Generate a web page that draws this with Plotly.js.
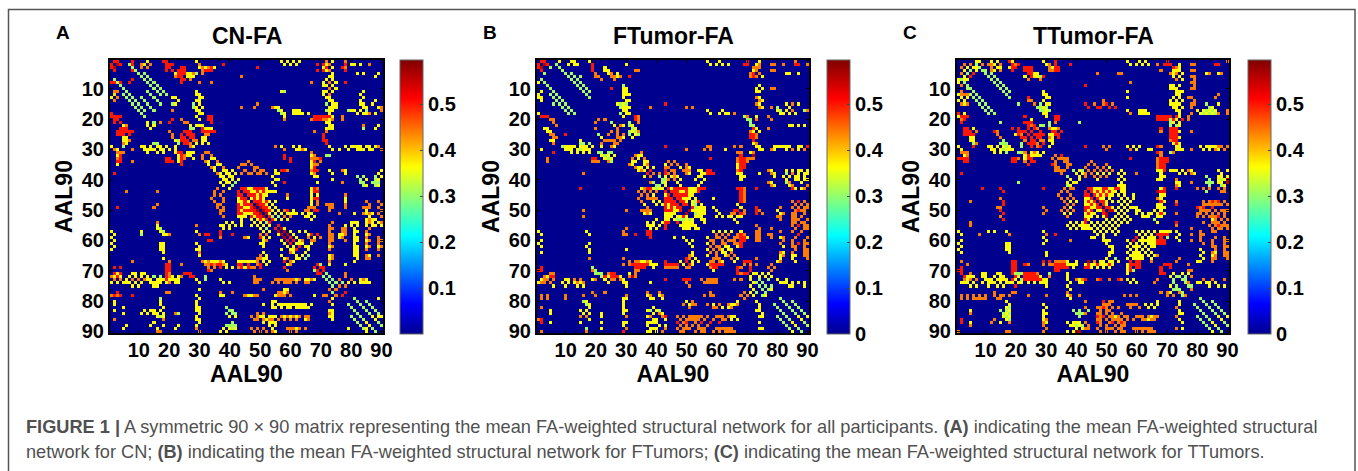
<!DOCTYPE html>
<html><head><meta charset="utf-8">
<script src="https://cdn.plot.ly/plotly-3.0.1.min.js"></script>
<style>html,body{margin:0;padding:0;background:#fff}#c{width:1358px;height:471px}</style>
</head><body><div id="c"></div>
<script>
// Each entry: [row, value, [columns]] — the matrices are symmetric, so each cell is mirrored.
const cnEdges = [
[1,.5,[2,3,8,18,19]],[1,.365,[13,29,57,59,61,63,74]],[1,.44,[72,78]],[2,.56,[3]],[2,.5,[4,19,20,38,71]],[2,.44,[7,12,14,30,73]],[2,.365,[58,60,62,80,83]],
[3,.5,[24,25,34,49,72,74]],[3,.44,[13,33,78]],[3,.365,[30,32,35]],[4,.5,[8,19,23,25,71]],[4,.365,[31,32]],
[5,.31,[29,10]],[5,.5,[23,24]],[5,.44,[26,27,28]],[5,.365,[82]],[6,.44,[22,44]],[6,.5,[24]],[6,.365,[28,73,88,74]],
[7,.5,[25]],[7,.365,[72,74]],[7,.44,[27]],[8,.44,[30,67,78]],[8,.365,[71,73,75]],[9,.365,[72,74]],[10,.365,[73,75]],
[3,.31,[8]],[4,.31,[9]],[6,.31,[11,13]],[7,.31,[12,14,2]],[8,.31,[13,15,3]],[9,.31,[14,16,4]],[10,.31,[15,17,5]],[11,.31,[16,18,6]],[12,.31,[17,19,7,5,14]],[13,.31,[8,6,11,15]],[14,.31,[9,7,12,16]],[15,.31,[10,13,17]],[16,.31,[11,14]],[17,.31,[12,15]],
[8,.5,[2,4,7]],[11,.44,[2,3]],[12,.38,[2]],[13,.44,[3]],[14,.44,[2]],
[11,.31,[58]],[12,.365,[30,71,73,83]],[13,.365,[22,30,31,73]],[14,.365,[23,30,73,74,83]],[15,.31,[21,22,28,30]],[15,.44,[49]],[15,.365,[74,75,83,87]],
[16,.44,[44,48,54]],[16,.365,[29,31,56,73,75,84,89]],[17,.365,[30,57,62,73,74]],[17,.31,[79,81,85]],[18,.365,[31,58,61,63,64,73,82,84,86,88]],[18,.44,[66]],[19,.44,[58]],[19,.5,[72,73]],
[19,.5,[2,3,4]],[20,.5,[3,21,33,34,68,69,70,73]],[21,.5,[2,4]],[22,.365,[5]],[23,.5,[4,6]],[24,.5,[3,4,6,7,8]],[25,.5,[3,5,7]],[26,.365,[5,6]],[27,.365,[5,6]],[28,.365,[6]],[30,.44,[2]],[31,.44,[3,4,5]],[32,.5,[4]],[33,.5,[4,19,20,23,24,25]],[34,.5,[4,19,20]],[34,.44,[8,24]],
[28,.31,[15,16]],[29,.365,[11,12,14,17,19]],[30,.365,[12,13,15,18,20]],[31,.5,[23,24]],[31,.365,[26,27,28]],[32,.5,[24,25]],[21,.365,[13]],[22,.365,[15]],[21,.44,[17]],
[38,.5,[2]],[44,.44,[6,16]],[49,.5,[3]],[48,.44,[16]],[49,.44,[15]],[54,.44,[16]],[55,.365,[16,29]],[56,.31,[17]],[57,.31,[18]],[58,.365,[19]],[58,.44,[20]],[57,.365,[11,29]],[58,.365,[30]],[58,.5,[33,41]],[60,.5,[34]],[59,.44,[37,45]],[61,.365,[29]],[63,.365,[29,30]],[61,.365,[17]],[62,.365,[18]],[63,.365,[17]],[64,.365,[18]],[66,.365,[18]],[59,.5,[50,51]],[60,.365,[51]],[61,.365,[50]],[62,.365,[51]],
[20,.44,[24,67,72,74,77]],[21,.5,[34]],[21,.44,[25,26]],[21,.365,[72,73]],[22,.365,[27,29,30,31,73,74]],[23,.31,[27,28,84]],[23,.365,[32,33,34,72,73,88]],
[24,.5,[25,26,27,33,34,35]],[24,.44,[68,72]],[25,.5,[26,27,28]],[25,.44,[32,33]],[26,.5,[27,28,71]],[26,.365,[32]],[27,.44,[28,29]],[27,.365,[32]],[27,.5,[71,72]],[28,.365,[29,33]],[28,.5,[72]],
[29,.44,[55,89]],[29,.365,[57,61,63,73,78,81,82,85,86,88]],[30,.44,[58,64]],[30,.365,[62,65,74,76,79,83,84,87,90]],
[31,.44,[32,33,67]],[32,.44,[34]],[32,.5,[58,68]],[32,.365,[67]],[32,.31,[73]],[33,.365,[34,35]],[33,.5,[60,68,70]],[33,.44,[67,69]],[34,.44,[36,46]],[34,.365,[67,68]],[35,.365,[36,37,67]],[35,.44,[44,45,47]],
[36,.44,[38,43,48,49]],[36,.365,[67]],[37,.365,[38,39,41,55,73,77,90]],[37,.5,[57,58]],[37,.44,[45,48,50,51,67,68]],[38,.365,[39,40,42,55,56,67,74,78]],[38,.44,[44,46,47,49,50,52]],[39,.365,[40,41,54,68]],[39,.31,[82]],[40,.365,[41,43,55,56]],[40,.31,[83,88]],[41,.31,[42,83,87,89]],[41,.365,[54]],[42,.365,[55]],[42,.31,[84,88]],
[43,.5,[44,45,48,49,50,51,68]],[43,.365,[46,47,52,67]],[44,.5,[45,46,49,51]],[44,.365,[47,48,50,52,53,54,55,67]],[45,.5,[46,47,48,50]],[45,.365,[49,51,52,67]],[46,.365,[47,49,51,59,67,78]],[46,.5,[48,50]],[47,.5,[48,49,50,52]],[47,.365,[51,53,55,67,78]],[47,.44,[85,89]],
[48,.56,[49]],[48,.5,[50,51]],[48,.365,[52,54,67]],[48,.44,[72,74,86]],[49,.56,[50]],[49,.5,[51,52]],[49,.365,[53,55]],[49,.44,[66,67,73,78,86]],[50,.56,[51]],[50,.5,[52,53]],[50,.365,[54,56,85]],[50,.44,[58,65,66,73]],
[51,.56,[52]],[51,.365,[53,55,57,59,61,64,66,81,85,87]],[51,.44,[76]],[52,.5,[53]],[52,.31,[54,56]],[52,.44,[58,60]],[52,.365,[65,86]],[53,.5,[54]],[53,.365,[55,57,59,87]],[54,.365,[80,81,82,85,87,89]],[55,.5,[56]],[55,.44,[73]],[55,.365,[78,80,85,88,90]],
[56,.56,[57]],[56,.365,[58]],[56,.44,[73,74,77]],[57,.56,[58]],[57,.365,[60,63,65,73,81,82]],[57,.44,[77,78,85]],[58,.56,[59]],[58,.365,[61,66,76,77,81,85,86]],[58,.5,[67,69]],[58,.44,[73]],[59,.5,[60]],[59,.365,[62,68,76,81,82]],[59,.44,[66,70,73,74,85]],
[60,.5,[61]],[60,.365,[63,81,85]],[60,.44,[64,67,68,73,89]],[61,.365,[62,63,64,67,81,85]],[61,.44,[89]],[62,.5,[63]],[62,.365,[65,66,73,81,85,86,89]],[63,.365,[66,81,82]],[63,.44,[85,89]],[64,.365,[65,81]],[65,.31,[66]],[65,.365,[73,82,86]],[65,.44,[89]],[66,.365,[73,82]],[66,.44,[85,86]],[67,.365,[73]],[68,.365,[73]],
[68,.5,[69]],[68,.31,[70]],[69,.5,[70,71]],[70,.5,[71]],
[68,.44,[32,33,35,38,49]],[68,.5,[34,36,37,44,46,50]],[69,.44,[33,35,43,47,48]],[69,.5,[37,44,46,50]],[69,.365,[39,41,45]],[67,.365,[51,53]],[66,.365,[52]],[68,.365,[52]],
[68,.5,[19]],[69,.5,[19]],[70,.5,[19]],[71,.5,[19]],[67,.44,[20]],[71,.44,[20]],[69,.5,[2,4]],
[72,.365,[2,4,9,11,13]],[73,.44,[2,4,8,10,12]],[74,.365,[3,5,7,9,11]],[71,.365,[3,9,11]],[73,.365,[14,16,18,20]],[72,.31,[15,17]],[74,.365,[16,19,22,23]],[72,.365,[21,23]],[71,.5,[25,26,27]],[72,.5,[27,28]],[73,.365,[29]],[74,.365,[30]],[72,.31,[32]],[70,.44,[34]],
[73,.365,[37]],[74,.365,[38,40]],[73,.44,[48,50,55,57,59,61,63,67]],[74,.44,[49,54,56,58,60,62,65,66]],[71,.31,[72]],[72,.31,[73]],[73,.31,[74,76]],[74,.31,[75,77]],[75,.31,[76]],[74,.365,[79,81,83,85]],[73,.44,[80,84]],[76,.44,[73,75]],[78,.44,[71,72,75]],[77,.5,[78]],
[77,.5,[3]],[78,.5,[2,4,8]],[77,.44,[19,37,41]],[78,.365,[37,38]],[78,.44,[45,48]],[78,.44,[56]],[77,.44,[57,59]],[78,.44,[58,60]],[78,.365,[68]],
[81,.365,[2,17]],[83,.365,[2,17,29]],[84,.365,[5,11,13,15]],[85,.365,[16,18,29]],[84,.44,[22]],[86,.44,[2,18]],[86,.365,[29,30]],[88,.365,[14,29]],[89,.365,[5,22]],[90,.44,[16,17,30]],[80,.365,[17,29]],[81,.365,[29]],[82,.365,[30]],
[84,.31,[39,41]],[85,.365,[40,42]],[88,.31,[39,41]],[89,.365,[38,40,42]],[90,.365,[37,39]],[85,.44,[47,49]],[86,.44,[51,53]],[84,.44,[49,51]],[85,.365,[53,55]],
[81,.365,[56,58,61,63,65,67]],[82,.365,[55,57,59,60,62,64,66]],[85,.44,[57,59,61,63,65]],[86,.44,[54,56,58,60,62]],[87,.365,[55]],[88,.365,[53,55]],[89,.44,[47,49,51,59,61,63]],[90,.44,[48,50,52,54,60,62]],
[83,.365,[73]],[84,.365,[74]],[85,.365,[73]],[86,.365,[74]],[89,.365,[79,85]],
[79,.31,[81]],[80,.31,[82,85]],[81,.31,[83,86]],[82,.31,[84,87]],[83,.31,[85,88]],[84,.31,[86,89]],[85,.365,[87,90]],[86,.365,[88]],[87,.31,[89]],[88,.31,[90]]
];
const ftumorEdges = [
[1,.5,[2,3]],[2,.56,[3]],[2,.5,[4]],[1,.365,[8,12,13,18,57,61]],[2,.365,[11,14,19,30,58,60,62,64]],[3,.31,[5]],[3,.5,[19]],[4,.5,[19,33,34]],[5,.365,[20,27]],[6,.44,[21]],[7,.44,[22]],[3,.365,[23]],[4,.365,[23,24]],[5,.44,[24]],[6,.5,[26,27,28,31]],[6,.31,[25,15]],
[7,.31,[2,12,14]],[8,.31,[3,13,15]],[9,.31,[4,14,16]],[10,.31,[5,15,17]],[11,.31,[6,16,18]],[12,.31,[7,17,5]],[13,.31,[8,18,6]],[14,.31,[9,7]],[15,.31,[10,8]],[16,.31,[11,9]],[17,.31,[12,10]],[18,.31,[11]],[4,.31,[9]],[5,.31,[10]],[6,.31,[11]],[13,.365,[2]],
[9,.31,[29]],[10,.365,[30]],[11,.365,[29]],[12,.365,[30,31]],[13,.365,[29]],[14,.365,[30,31]],[15,.31,[28,30]],[16,.365,[29,31]],[17,.365,[30]],[18,.365,[31]],[10,.5,[25]],
[16,.44,[38,50,52]],[15,.5,[43]],[17,.365,[57,62]],[18,.365,[58,61,63,64]],[18,.44,[66]],[1,.5,[70]],[2,.5,[70]],[3,.44,[72,73]],[1,.365,[74]],[3,.365,[74]],[4,.365,[73]],[5,.44,[71,74]],[6,.44,[71]],[6,.365,[73,75]],
[2,.44,[79,82]],[4,.44,[79]],[1,.44,[86]],[2,.5,[87]],[2,.44,[90]],[5,.365,[84]],[10,.44,[79]],[9,.365,[74]],[10,.365,[73,75]],[13,.365,[74]],[14,.365,[75]],[15,.365,[74]],[16,.365,[74,75]],
[16,.31,[80,84]],[17,.31,[81,85]],[15,.365,[83]],[15,.44,[87]],[18,.44,[86]],[17,.31,[89]],[18,.365,[82,84]],
[19,.31,[69]],[20,.31,[70]],[21,.31,[71]],[22,.31,[71,72]],[23,.5,[72,73]],[24,.365,[72]],[25,.5,[71,72]],[26,.5,[71,72]],[27,.5,[72]],[28,.365,[72,73]],[29,.365,[73,74]],[30,.365,[75]],[20,.44,[73]],[19,.44,[77]],[20,.44,[78]],[23,.44,[77]],[22,.365,[85,89]],
[19,.5,[2,3,4]],[20,.44,[5,6]],[23,.365,[4]],[24,.365,[4,5]],[25,.44,[5,6]],[26,.44,[6,7]],[27,.365,[6]],[28,.44,[6]],[33,.44,[4]],[34,.44,[4]],
[20,.44,[21]],[20,.44,[23]],[21,.31,[25]],[23,.44,[20]],[22,.365,[28,29]],[24,.44,[25,27]],[25,.44,[24,29]],[26,.365,[22,29]],[27,.44,[23,25,26,28]],[28,.44,[22,26]],
[20,.44,[33,34]],[21,.44,[34]],[22,.31,[31]],[23,.31,[32]],[24,.31,[31,33]],[25,.31,[31,34]],[26,.365,[32]],
[29,.44,[57,58,66]],[30,.44,[56,58]],[30,.365,[63]],[29,.365,[79,81,82,83,84]],[30,.365,[78,85,87,89]],[29,.5,[43]],[30,.44,[50]],[29,.44,[88,90]],
[29,.365,[10,12,13,15,17,19]],[30,.365,[11,14,16,18]],[28,.31,[16,18]],[27,.365,[15]],
[31,.31,[21,25]],[32,.365,[22,24]],[33,.365,[23,25]],[33,.5,[19,20]],[34,.44,[19,24]],
[31,.44,[67,35]],[32,.44,[68]],[33,.44,[67,68,70,71]],[34,.44,[67,68,69]],[35,.365,[67,68]],[36,.365,[67,68]],[37,.44,[67,68]],[38,.365,[67]],[39,.365,[68]],[32,.56,[72]],[33,.5,[58]],
[32,.365,[34,35]],[33,.44,[32,36]],[34,.365,[33,36,37]],[35,.365,[36,37]],[36,.365,[37]],[37,.44,[35]],
[36,.365,[39]],[35,.365,[43]],[34,.44,[44,46]],[35,.44,[45,47]],[36,.44,[43,44,48,50]],[37,.44,[45,49,51]],[38,.44,[39,41,43,46,50]],[37,.5,[38]],[37,.365,[54,83,85,87,88,90]],[38,.365,[55,83,89]],[39,.365,[54,82,84,87]],[40,.365,[53,83,86,89]],[41,.365,[55]],[42,.365,[54]],[37,.5,[57]],[38,.5,[56,57,59]],
[39,.31,[41]],[40,.31,[42,43]],[41,.31,[42]],[42,.31,[43]],[39,.365,[45,47]],[40,.44,[46,48]],
[43,.5,[44,46,47,48,49,50,67,68,73,85]],[43,.365,[45,51,52,53,54,55,56]],[44,.5,[45,46,47,50,68]],[44,.365,[48,49,51,53]],[45,.5,[46,47,48,49,50]],[45,.365,[51,52]],[45,.44,[68]],[46,.5,[47,48,68]],[46,.365,[49,50,51,53,59]],[47,.5,[48,49]],[47,.365,[50,52,54,68]],[48,.5,[49,50]],[48,.365,[52,53,55,67]],[49,.5,[52,73]],[49,.365,[54,55,56,59,68]],[50,.56,[51]],[50,.365,[53,55,60]],[51,.365,[54,56,61]],[52,.365,[55,60,62,64,65]],[53,.365,[56]],
[43,.5,[37,38]],[43,.365,[39,41,42]],[44,.44,[36,38,40]],[46,.44,[37,39,40]],[47,.365,[39,41]],[48,.365,[36,40,42]],[50,.44,[35,37,38]],[51,.365,[36,38]],
[52,.365,[44,47,50,53]],[53,.365,[44]],[54,.5,[43,44,47]],[55,.5,[43]],[56,.5,[43]],[55,.365,[37,39,41,48,51,53]],[56,.365,[38,40,50,54]],[57,.5,[37,38]],[58,.5,[37,38]],[59,.5,[38]],[53,.31,[47,48,49,51]],[54,.365,[49,50,52]],
[50,.5,[67,66,73]],[51,.44,[65,66,73,75]],[50,.44,[74]],
[37,.365,[78]],[38,.365,[79]],[39,.365,[79]],[41,.365,[78]],[42,.365,[79]],[41,.44,[84,88]],[42,.44,[85,90]],[43,.44,[86,89]],
[47,.5,[85,87,89]],[48,.44,[86,88]],[49,.44,[81,85,87,89]],[50,.44,[86,88]],[50,.365,[80]],[51,.44,[85,89]],[51,.365,[81]],[52,.44,[80,86,88]],[53,.44,[81,85,87]],[54,.44,[86,89]],[55,.44,[73,85,87,90]],[56,.44,[74,78,86,89]],[57,.44,[73,85]],[58,.44,[74,77]],[59,.44,[73,78]],[60,.44,[74]],
[57,.365,[59,61,63,65,68,81]],[58,.44,[60,62,64,67,69]],[59,.44,[60,61,63,66,68,70]],[59,.365,[81]],[60,.44,[62,64,65,69,82]],[61,.44,[62,63,66,85,89]],[61,.365,[81]],[62,.365,[63,64,67,82]],[62,.44,[85,86]],[63,.365,[64,65]],[63,.44,[86,89]],[64,.44,[65,85,89,90]],[64,.365,[81,82]],[65,.44,[66,89]],[65,.365,[81,82,85,86]],[66,.365,[67,81,85]],[66,.44,[90]],[67,.365,[80,81,86]],
[67,.44,[61,58,59]],[66,.44,[59,60,61]],[68,.5,[58,59,60,61,62]],[69,.5,[59,60]],[70,.365,[59]],
[67,.5,[69,70,71]],[68,.44,[69,71,73]],[69,.5,[71]],[70,.5,[71]],[70,.44,[78]],[69,.44,[79]],
[68,.44,[29,31]],[68,.5,[32,33,34,35,36,37,44,45,46,47,51]],[68,.365,[38,40,52]],[69,.5,[33,34,35,36]],[69,.365,[39]],[69,.44,[43,44,45,46,47,50,51]],[67,.365,[52,54]],[66,.365,[53]],
[70,.44,[33,34]],[71,.44,[33]],[72,.44,[33,31]],[71,.365,[31]],[70,.44,[19]],[71,.31,[20,21]],[72,.31,[22]],[73,.365,[23,19]],[71,.5,[25,26]],[72,.5,[26,27]],[71,.44,[24]],[73,.44,[25,26,28]],[74,.365,[29,30,24]],[72,.365,[24]],
[69,.5,[2]],[72,.5,[5,6]],[73,.44,[4,6]],[74,.44,[2,3,5]],[73,.365,[2,10,11]],[72,.365,[4]],[74,.365,[11]],[73,.44,[13,15]],[74,.44,[14,16]],
[74,.365,[38]],[73,.5,[43,49,51]],[74,.44,[50,56,57,59]],[73,.44,[55,58,60,66]],
[71,.365,[72,73,75,77]],[72,.365,[74,76,78]],[73,.31,[74]],[74,.31,[75]],[75,.31,[76,78]],[76,.31,[77]],[77,.31,[73]],[78,.365,[76]],[73,.365,[80,83]],[74,.365,[81,82,85,87,89]],
[78,.44,[2,4,10,16,20,30,38,42,56,58,68]],[77,.44,[19,23,37,41,69]],
[80,.365,[17,29]],[81,.365,[18]],[83,.365,[17,5,30]],[84,.365,[16,22,29]],[85,.44,[17,15,30]],[86,.365,[18]],[86,.5,[2]],[87,.365,[5,15,22,29]],[90,.44,[17]],[79,.365,[30]],[82,.365,[29]],[88,.365,[29]],[89,.44,[30]],[90,.5,[29]],
[83,.31,[38,41]],[84,.365,[39,42]],[85,.44,[38]],[86,.365,[39,43]],[87,.365,[38,40]],[88,.365,[41,43]],[89,.365,[39]],[90,.365,[38,40]],
[85,.44,[47,49,52,54,57,60,62,64]],[86,.44,[48,51,53,56,59,63]],[87,.5,[47,50,55,58,61]],[88,.44,[48,52,54,57]],[89,.44,[47,50,51,55,60,62,64]],[90,.44,[48,49,53,56,59,61,63,65]],
[82,.44,[51]],[81,.44,[52,57,61,64,67]],[82,.44,[59,60,65]],[81,.365,[74]],[83,.365,[74]],[84,.365,[75]],[85,.365,[75]],[87,.365,[74]],[89,.365,[75]],
[79,.31,[81]],[80,.31,[82,85]],[81,.31,[83,86]],[82,.31,[84,87]],[83,.31,[85,88]],[84,.31,[86,89]],[85,.365,[87,90]],[86,.365,[88]],[87,.31,[89]],[88,.31,[90]]
];
const ttumorEdges = [
[1,.365,[7,8,12,14,19,29]],[1,.5,[18,33]],[2,.44,[3,5,9,12,13,19,20,30,31]],[3,.365,[4,6,14,15,18,32]],[3,.5,[19,23,24,25,31,33,34]],[4,.31,[5,10]],[4,.5,[24,25,32,33,34]],[5,.5,[25,26,27]],[6,.5,[26,27,28,29,5]],[7,.44,[24,28]],[6,.365,[23]],[7,.365,[3,4]],
[7,.31,[2,12,14]],[8,.31,[3,13,15]],[9,.31,[4,14,16]],[10,.31,[5,15,17]],[11,.31,[6,16,18]],[12,.31,[7,17,5]],[13,.31,[8,18,6]],[14,.31,[9,7]],[15,.31,[10,8,21]],[16,.31,[11,9]],[17,.31,[12,10]],[18,.31,[11]],[4,.31,[9]],[5,.31,[10]],[6,.31,[11]],
[12,.365,[30]],[13,.365,[30,31]],[14,.365,[29]],[15,.365,[30,31]],[16,.31,[28,30]],[17,.31,[29,31]],[18,.365,[30]],[13,.5,[24]],[14,.44,[25,24]],[15,.44,[26]],
[11,.44,[2]],[12,.44,[3,4]],[13,.365,[2,4]],[14,.365,[3]],[15,.44,[2,4]],[19,.5,[2,3,4]],[20,.5,[3]],[21,.5,[2]],[23,.5,[3,4]],[24,.5,[4,5]],[25,.5,[5,6]],[26,.365,[6,5]],[27,.365,[5,6]],[28,.31,[6]],[30,.44,[2]],[31,.44,[3,4]],[33,.5,[3,4]],[34,.5,[4]],
[29,.365,[11,12,14,16,18]],[30,.365,[13,15,17,19]],[28,.31,[15,17]],[27,.31,[16]],
[21,.5,[24,25]],[20,.365,[25]],[22,.44,[25,26]],[23,.5,[19,21,24,26,27]],[24,.5,[21,22,23,25,28]],[25,.5,[26,27,28,29]],[26,.5,[22,23,27,28]],[27,.44,[23,28,29]],[28,.5,[29]],[29,.44,[22]],[22,.31,[28,29]],
[20,.5,[33,34]],[21,.44,[33]],[22,.31,[31]],[23,.44,[31,33,34]],[24,.5,[32,33,35]],[25,.365,[31,32]],[26,.44,[31,34]],[27,.365,[32]],[21,.31,[41]],
[31,.31,[21,22]],[32,.365,[23,26,27,28]],[33,.5,[19,24,25]],[34,.5,[19,25,26]],[31,.365,[25,27,29]],[33,.365,[23]],
[32,.5,[35]],[33,.44,[32,34,36,37]],[34,.44,[37]],[35,.44,[33,38]],[36,.44,[34,37]],[37,.44,[35]],
[1,.365,[61,63,57]],[2,.365,[58,60,62,64]],[2,.44,[67]],[1,.5,[70]],[2,.5,[71]],[3,.5,[72,74]],[4,.365,[73,74]],[5,.365,[72,75]],[6,.44,[72,74]],[7,.365,[73,75]],
[9,.365,[71,74]],[10,.365,[72,73]],[11,.365,[73,75]],[12,.365,[74]],[13,.365,[72,74]],[14,.365,[71,73,75]],[15,.365,[73,74]],[16,.365,[72,75]],[17,.365,[73,74]],[18,.365,[74]],
[2,.44,[79]],[4,.44,[79]],[6,.44,[79]],[7,.44,[79]],[8,.44,[79]],[9,.44,[79]],[10,.44,[79]],[5,.44,[84,88]],[2,.5,[87]],[1,.44,[90]],
[13,.44,[78]],[14,.44,[79]],[15,.44,[79]],[17,.31,[80,83,85]],[18,.31,[81,82,84,86]],[16,.31,[84]],[15,.31,[83]],[17,.44,[86]],[18,.44,[87,90]],[12,.44,[87]],
[2,.5,[38]],[5,.44,[47,55]],[9,.5,[43]],[8,.44,[58]],[11,.365,[57]],[13,.365,[57]],[15,.5,[43,50]],[16,.5,[44,47,48,51,53]],[15,.44,[46,49,52]],[14,.44,[49]],[17,.365,[57,62]],[18,.365,[58,61,63,64]],
[19,.5,[68,70,71,73,74]],[20,.5,[67,69,70,71,72,75]],[21,.365,[71,72]],[22,.31,[71,73]],[23,.5,[71,72,73]],[24,.5,[71,73]],[25,.5,[71,72,73]],[26,.5,[71,72]],[27,.44,[71,72,73]],[28,.365,[72,73]],[29,.365,[74]],[30,.365,[74]],[24,.44,[68,78]],[20,.44,[77]],[19,.44,[77]],
[2,.365,[30]],[3,.44,[31]],[4,.44,[32]],[2,.5,[33]],
[29,.5,[43,67]],[29,.44,[49,51,85,87,88,90]],[30,.44,[50,78,86,89]],[29,.365,[57,59,61,81,83,84]],[30,.365,[58,60,64,73,75,82]],
[31,.5,[67]],[32,.44,[68]],[33,.44,[67,68,70]],[34,.44,[67,68,69]],[35,.44,[67,68]],[36,.44,[67,68]],[37,.365,[67,68]],[39,.365,[68]],[40,.365,[67]],[31,.44,[71,72]],[33,.5,[58]],[38,.44,[60]],
[37,.365,[72,75,78,87,90,55]],[38,.365,[76,79,88,54]],[41,.365,[73,55,88]],[42,.365,[74,54,55,89]],[41,.44,[78]],[39,.31,[83]],[40,.31,[84]],[41,.31,[83,84]],[42,.31,[84]],[39,.365,[88,90,55]],[40,.365,[87,89,54]],[41,.56,[90]],[43,.44,[80,82,84,87]],[44,.44,[88]],
[37,.31,[39,41]],[38,.365,[40,42]],[39,.365,[41]],[39,.31,[43]],[40,.365,[38,41]],[41,.365,[37,39]],[42,.31,[37]],[43,.365,[38]],
[34,.44,[45]],[35,.44,[44,46,50]],[36,.44,[43,47,49,51]],[37,.44,[44,48,50,52]],[38,.44,[43,45,47,49,51]],[39,.365,[46,48]],[40,.365,[47]],
[43,.5,[44,45,49,50,53,54,55,73]],[43,.365,[46,47,48,51,52,56,68]],[44,.5,[45,47,49,51]],[44,.365,[46,48,50,52,53]],[44,.56,[67]],[45,.5,[46,48,50]],[45,.365,[47,49,51]],[45,.44,[68]],[46,.5,[47]],[46,.365,[48,49,51,59]],[46,.44,[67]],[47,.5,[48,49]],[47,.365,[50,68]],[48,.5,[49,73]],[48,.365,[50,67]],[49,.5,[50,51]],[50,.56,[51,52,68]],[49,.365,[52,54,56,59,60,67,68]],[50,.365,[53,55,57,60,61,66]],[51,.365,[54,56,62,64,65,67]],[52,.365,[53,55,57,62,63,64,45,47]],[53,.365,[54,56,58,44]],[54,.365,[55,57,45,47]],
[55,.365,[44,46,48,37,39,41,43]],[56,.365,[45,47,49,38,40,42,44]],[57,.365,[46,48,50]],[58,.365,[47,49]],
[43,.44,[36,38,39]],[44,.44,[37]],[46,.44,[37,39]],[47,.365,[38,40]],[48,.44,[37,39]],[49,.365,[38]],[50,.44,[35,37,39]],[51,.365,[36,38]],
[47,.44,[82,84,86,89]],[48,.44,[83,85,87]],[49,.5,[80,82,85]],[50,.44,[81,83,86,89]],[51,.44,[80,85,87]],[52,.44,[80,86,89]],[53,.365,[85]],[54,.44,[82,85,86,87]],[55,.44,[84,88,89]],[56,.44,[85,87,90]],
[54,.44,[5]],[57,.365,[11,13,17,29]],[58,.44,[8,18,30]],[61,.365,[17,29]],[62,.365,[18]],[63,.365,[17]],[64,.365,[18]],[59,.365,[29]],[60,.365,[30]],[65,.365,[30]],[58,.5,[33]],[60,.44,[38]],[59,.365,[45,49]],[60,.365,[51]],[61,.365,[50]],[62,.365,[52]],
[54,.5,[73]],[57,.44,[73,85]],[58,.44,[74,78,81]],[59,.44,[73]],[60,.44,[74,78,81,85,89]],[61,.365,[82]],[61,.44,[85]],[62,.44,[85,86,89,90]],[63,.365,[81]],[64,.365,[85,86]],[64,.44,[89]],[65,.365,[81,85]],[65,.44,[89,90]],[66,.365,[82]],[66,.44,[86]],[67,.365,[80]],[67,.44,[85]],
[57,.365,[60,62,64,66,68,69,70,71]],[58,.365,[61,63,65]],[58,.5,[67,68,69,70]],[59,.5,[60]],[59,.365,[62,64,66,68]],[60,.365,[61,63,65,67]],[60,.5,[68,69]],[61,.365,[62,64,66]],[62,.365,[63,65,59,60]],[63,.365,[64,58]],[64,.365,[59,60]],[65,.365,[59,61,64]],[66,.365,[60,65,62]],[67,.5,[60,61]],[68,.5,[59,61]],[69,.5,[60,61]],[70,.31,[59]],[65,.44,[67]],
[68,.5,[69,70,71]],[69,.5,[71]],
[68,.44,[29,31]],[69,.5,[33,34,35,36,37,43,44]],[68,.5,[33,34,35,36,44,47,51,19,20,23]],[68,.365,[38,39,40,45,46,48,50,52]],[69,.365,[39,45,47,49,51]],[67,.365,[52,54]],[66,.31,[53]],[70,.5,[33,34,19]],[67,.5,[19,20]],[69,.5,[19,20,2]],[71,.31,[20,21,31]],[68,.44,[4]],[70,.5,[2]],
[71,.44,[5]],[72,.365,[4,6,9,13,15]],[73,.44,[3,5,7]],[74,.365,[2,3,4,6,9,11,13,15,17]],[73,.365,[10,12,14,16,20,29]],[71,.365,[10,15,37]],[72,.5,[23,24,25,26,27]],[73,.5,[23,25,26,27,28]],[74,.365,[19,21,22,24,26,28,30,38,41]],[73,.365,[37]],[73,.44,[40,42,47,51,55,67]],[73,.5,[43]],[73,.365,[57,59]],[74,.365,[58,60]],[74,.44,[66]],
[71,.365,[72,75,77]],[72,.31,[73,74,76,78]],[73,.31,[75]],[74,.31,[76]],[75,.31,[77]],[74,.365,[80,84]],[73,.44,[82,85,89]],[76,.31,[73]],[77,.31,[74]],[78,.31,[75]],
[78,.44,[2,4,6,8,10,15,16,18,24,30,38,56,58,70,72,76]],[77,.44,[13,19,37,68,70,74]],
[80,.365,[17]],[81,.365,[18,29]],[82,.365,[17,30]],[83,.365,[18,5,29]],[84,.365,[17,30]],[85,.365,[16,18,29]],[86,.365,[17,29]],[86,.5,[2]],[87,.365,[5,15,30]],[86,.44,[13]],[90,.44,[17,18,29]],
[83,.31,[39,41,44]],[84,.31,[40,42]],[85,.31,[41]],[87,.365,[37,39,41]],[88,.31,[40,42]],[89,.44,[43,44]],[90,.56,[40]],
[81,.44,[49,51,57,59,60]],[82,.44,[48,50,52,58,61]],[83,.44,[51]],[81,.365,[63,65,67,74]],[82,.365,[64,66]],[84,.44,[48,50,52]],[85,.5,[47,49]],[86,.44,[48,50,53,55,57,59,63,65]],[85,.44,[51,52,54,60,62,64,66]],[87,.5,[47,52,55]],[88,.44,[48,50,53,56]],[89,.44,[47,51,54,59,61,63]],[90,.44,[48,50,53,55,60,62,64,66]],
[83,.365,[74]],[84,.365,[75]],[86,.365,[74]],[87,.365,[75]],[89,.365,[75]],
[79,.31,[81]],[80,.31,[82,85]],[81,.31,[83,86]],[82,.31,[84,87]],[83,.31,[85,88]],[84,.31,[86,89]],[85,.365,[87,90]],[86,.365,[88]],[87,.31,[89]],[88,.31,[90]]
];
const regionIndex = Array.from({length:90},(_,i)=>i+1);
const axisTicks = [10,20,30,40,50,60,70,80,90];
const cbTicksA = [.1,.2,.3,.4,.5];
const cbTicksBC = [0,.1,.2,.3,.4,.5];
const panelTitles = ['CN-FA','FTumor-FA','TTumor-FA'];
const panelLetters = ['A','B','C'];
const jet = [[0,'#00008f'],[.11,'#0000ff'],[.36,'#00ffff'],[.61,'#ffff00'],[.86,'#ff0000'],[1,'#800000']];

function toMatrix(edges){
  const m = regionIndex.map(()=>regionIndex.map(()=>0));
  edges.forEach(([r,v,cols])=>cols.forEach(c=>{ if(r!==c){ m[r-1][c-1]=v; m[c-1][r-1]=v; } }));
  return m;
}
const W=1358,H=471;
const boxes=[{l:110,r:383,cb:400},{l:537,r:809,cb:827},{l:957,r:1229,cb:1248}];
const plotTop=60,plotBot=333;
const F='"Liberation Sans",Arial,sans-serif';
const bold=s=>({family:F,size:s,color:'#000',weight:700});
const data=[cnEdges,ftumorEdges,ttumorEdges].map((e,i)=>({
  type:'heatmap',x:regionIndex,y:regionIndex,z:toMatrix(e),xaxis:i?'x'+(i+1):'x',yaxis:i?'y'+(i+1):'y',
  zmin:0,zmax:.596,colorscale:jet,xgap:0,ygap:0,hoverinfo:'skip',
  colorbar:{x:boxes[i].cb/W,xanchor:'left',xpad:0,ypad:0,y:1-plotTop/H,yanchor:'top',len:(334-plotTop)/H,lenmode:'fraction',thickness:23,thicknessmode:'pixels',
    outlinewidth:1,outlinecolor:'#666',ticks:'inside',ticklen:3,tickcolor:'#444',tickvals:i?cbTicksBC:cbTicksA,ticktext:(i?cbTicksBC:cbTicksA).map(String),tickfont:bold(20)}
}));
const layout={width:W,height:H,margin:{l:0,r:0,t:0,b:0},paper_bgcolor:'#fff',plot_bgcolor:'#00008f',showlegend:false,annotations:[],
  shapes:[{type:'rect',xref:'paper',yref:'paper',x0:8.5/W,x1:1355/W,y0:-0.05,y1:1-9.5/H,line:{color:'#555',width:1.5},fillcolor:'rgba(0,0,0,0)'}]};
boxes.forEach((b,i)=>{
  const s=i?String(i+1):'';
  layout['xaxis'+s]={domain:[b.l/W,b.r/W],range:[.5,90.5],anchor:'y'+s,tickvals:axisTicks,ticktext:axisTicks.map(String),ticks:'inside',ticklen:3,tickcolor:'#000',showline:true,linecolor:'#000',linewidth:2,mirror:'ticks',showgrid:false,zeroline:false,tickfont:bold(20),tickangle:0,ticklabelstandoff:-2,
    title:{text:'AAL90',font:bold(23),standoff:0}};
  layout['yaxis'+s]={domain:[1-plotBot/H,1-plotTop/H],range:[90.5,.5],anchor:'x'+s,tickvals:axisTicks,ticktext:axisTicks.map(String),ticks:'inside',ticklen:3,tickcolor:'#000',showline:true,linecolor:'#000',linewidth:2,mirror:'ticks',showgrid:false,zeroline:false,tickfont:bold(20),
    title:{text:'AAL90',font:bold(23),standoff:3}};
  layout.annotations.push({xref:'paper',yref:'paper',x:(b.l+b.r)/2/W,y:1-36/H,yanchor:'middle',xanchor:'center',showarrow:false,text:panelTitles[i],font:bold(23)});
  layout.annotations.push({xref:'paper',yref:'paper',x:(b.l-47)/W,y:1-33/H,yanchor:'middle',xanchor:'center',showarrow:false,text:panelLetters[i],font:bold(19)});
});
const capFont={family:F,size:18.2,color:'#505050'};
layout.annotations.push({xref:'paper',yref:'paper',x:24/W,y:1-427/H,xanchor:'left',yanchor:'middle',showarrow:false,font:capFont,
  text:'<b>FIGURE 1 |</b> A symmetric 90 × 90 matrix representing the mean FA-weighted structural network for all participants. <b>(A)</b> indicating the mean FA-weighted structural'});
layout.annotations.push({xref:'paper',yref:'paper',x:24/W,y:1-452/H,xanchor:'left',yanchor:'middle',showarrow:false,font:capFont,
  text:'network for CN; <b>(B)</b> indicating the mean FA-weighted structural network for FTumors; <b>(C)</b> indicating the mean FA-weighted structural network for TTumors.'});
Plotly.newPlot('c',data,layout,{displayModeBar:false,staticPlot:true});
</script></body></html>
